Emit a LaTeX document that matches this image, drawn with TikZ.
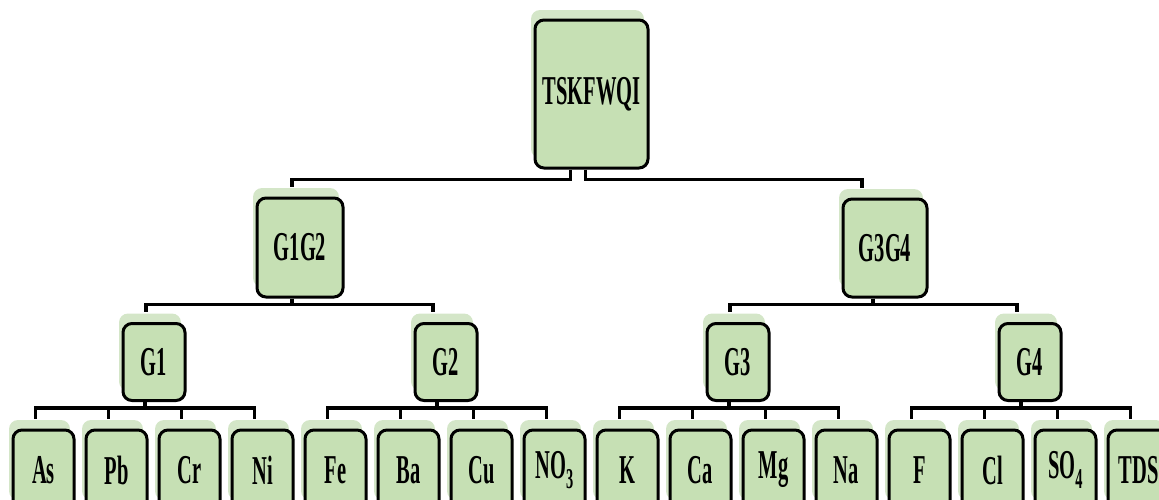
\documentclass[tikz,border=0pt]{standalone}
\usepackage{fontspec}
\setmainfont{Liberation Serif}
\usepackage{graphicx}
\usetikzlibrary{positioning,calc,shadows}
\definecolor{boxgreen}{RGB}{198,224,180}
\definecolor{shadegreen}{RGB}{212,230,200}
\newcommand{\narrow}[1]{\scalebox{0.5}[1]{#1}}
\tikzset{
	box/.style={draw, line width=3pt, rounded corners=9pt, fill=boxgreen, inner sep=0pt,
		font=\fontsize{41}{41}\selectfont\bfseries,
		general shadow={fill=shadegreen, shadow xshift=-4pt, shadow yshift=10pt}},
	midbox/.style={box, minimum width=62pt, minimum height=77pt},
	leaf/.style={box, minimum width=61pt, minimum height=80pt},
	link/.style={line width=3.5pt},
}

\begin{document}
\begin{tikzpicture}[x=1pt, y=-1pt]
	\useasboundingbox (0,0) rectangle (1159,499);
	\clip (0,0) rectangle (1159,499);

	% top of the tree
	\node[box, minimum width=113pt, minimum height=148pt] (root) at (591.5, 94) {\narrow{TSKFWQI}};
	\node[box, minimum width=86pt, minimum height=99pt] (g12) at (300, 247.5) {\narrow{G1G2}};
	\node[box, minimum width=84pt, minimum height=98pt] (g34) at (885, 248) {\narrow{G3G4}};

	\node[midbox] (g1) at (154, 362) {\narrow{G1}};
	\node[midbox] (g2) at (446, 362) {\narrow{G2}};
	\node[midbox] (g3) at (738, 362) {\narrow{G3}};
	\node[midbox] (g4) at (1030, 362) {\narrow{G4}};

	% parameters
	\foreach \name/\label [count=\i from 0] in {as/As, pb/Pb, cr/Cr, ni/Ni, fe/Fe, ba/Ba, cu/Cu,
		no3/{NO\textsubscript{3}}, k/K, ca/Ca, mg/Mg, na/Na, f/F, cl/Cl, so4/{SO\textsubscript{4}}, tds/TDS}
		\node[leaf] (\name) at ({43.5+73*\i}, 470) {\narrow{\label}};

	\draw[link] ([xshift=-21pt]root.south) -- ++(0,10) -| ([xshift=-8pt,yshift=10pt]g12.north);
	\draw[link] ([xshift=-6pt]root.south) -- ++(0,10) -| ([xshift=-23pt,yshift=10pt]g34.north);

	\draw[link] ([xshift=-8pt]g12.south) -- ++(0,6) -| ([xshift=-8pt,yshift=10pt]g1.north);
	\draw[link] ([xshift=-8pt]g12.south) -- ++(0,6) -| ([xshift=-13pt,yshift=10pt]g2.north);
	\draw[link] ([xshift=-12pt]g34.south) -- ++(0,6) -| ([xshift=-8pt,yshift=10pt]g3.north);
	\draw[link] ([xshift=-12pt]g34.south) -- ++(0,6) -| ([xshift=-13pt,yshift=10pt]g4.north);

	\foreach \p/\c in {g1/as, g1/pb, g1/cr, g1/ni, g2/fe, g2/ba, g2/cu, g2/no3,
		g3/k, g3/ca, g3/mg, g3/na, g4/f, g4/cl, g4/so4, g4/tds}
		\draw[link] ([xshift=-9pt]\p.south) -- ++(0,6) -| ([xshift=-8pt,yshift=10pt]\c.north);
\end{tikzpicture}
\end{document}
